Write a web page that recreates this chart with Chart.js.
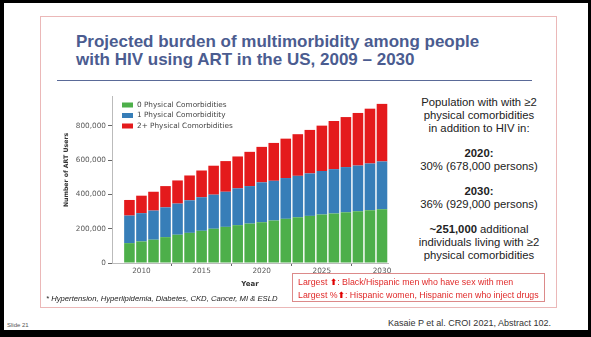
<!DOCTYPE html>
<html>
<head>
<meta charset="utf-8">
<script src="https://cdn.jsdelivr.net/npm/chart.js@4"></script>
<style>
  html, body { margin: 0; padding: 0; }
  body { width: 591px; height: 337px; background: #000; position: relative; overflow: hidden; font-family: "Liberation Sans", Arial, sans-serif; }
  .abs { position: absolute; }
  #slide { left: 4px; top: 3px; width: 584px; height: 327px; background: #fff; }
  #frame { left: 40px; top: 16px; width: 517px; height: 292px; border: 1px solid #ebb8b8; box-sizing: border-box; }
  #title { left: 76px; top: 33px; font-weight: bold; font-size: 17px; line-height: 18px; color: #4b5c90; white-space: nowrap; }
  #rule { left: 57px; top: 80px; width: 475px; height: 0; border-top: 1.5px solid #5a6a98; }
  #chartBox { left: 60px; top: 88px; width: 340px; height: 205px; }
  #side { left: 404px; top: 96px; width: 150px; text-align: center; font-size: 11.3px; line-height: 13px; color: #222; }
  #side p { margin: 0 0 12px 0; }
  #note { left: 292px; top: 273px; width: 253px; height: 29px; border: 1px solid #dc8a8a; box-sizing: border-box; padding: 2px 0 0 5px; font-size: 8.8px; line-height: 12.5px; color: #e02a2a; white-space: nowrap; }
  .up { font-family: "DejaVu Sans"; font-weight: bold; color: #e00000; }
  #foot { left: 46px; top: 294px; font-style: italic; font-size: 7.7px; color: #222; white-space: nowrap; }
  #cite { left: 388px; top: 318px; font-size: 9px; color: #333; white-space: nowrap; }
  #slideNo { left: 7px; top: 322px; font-size: 6px; color: #555; }
</style>
</head>
<body>
<div id="slide" class="abs"></div>
<div id="frame" class="abs"></div>
<div id="title" class="abs">Projected burden of multimorbidity among people<br>with HIV using ART in the US, 2009 – 2030</div>
<div id="rule" class="abs"></div>
<div id="chartBox" class="abs"><canvas id="burden-chart"></canvas></div>
<div id="side" class="abs">
  <p>Population with with ≥2<br>physical comorbidities<br>in addition to HIV in:</p>
  <p><b>2020:</b><br>30% (678,000 persons)</p>
  <p><b>2030:</b><br>36% (929,000 persons)</p>
  <p><b>~251,000</b> additional<br>individuals living with ≥2<br>physical comorbidities</p>
</div>
<div id="note" class="abs">Largest <span class="up">⬆</span>: Black/Hispanic men who have sex with men<br>Largest %<span class="up">⬆</span>: Hispanic women, Hispanic men who inject drugs</div>
<div id="foot" class="abs">* Hypertension, Hyperlipidemia, Diabetes, CKD, Cancer, MI &amp; ESLD</div>
<div id="cite" class="abs">Kasaie P et al. CROI 2021, Abstract 102.</div>
<div id="slideNo" class="abs">Slide 21</div>

<script>
const years = [2009, 2010, 2011, 2012, 2013, 2014, 2015, 2016, 2017, 2018, 2019,
               2020, 2021, 2022, 2023, 2024, 2025, 2026, 2027, 2028, 2029, 2030];

// ART users by number of physical comorbidities
const zeroComorb = [116000, 126000, 136000, 151000, 165000, 176000, 188000, 200000, 211000, 221000, 230000,
                    238000, 248000, 258000, 267000, 275000, 283000, 289000, 296000, 302000, 308000, 314000];
const oneComorb = [161000, 165000, 170000, 174000, 182000, 190000, 196000, 199000, 205000, 215000, 219000,
                   233000, 232000, 238000, 242000, 248000, 254000, 259000, 264000, 267000, 273000, 279000];
const twoPlusComorb = [91000, 102000, 110000, 124000, 135000, 145000, 156000, 169000, 179000, 186000, 200000,
                       207000, 221000, 230000, 243000, 254000, 265000, 281000, 292000, 307000, 320000, 336000];

const seriesLabels = ['0 Physical Comorbidities', '1 Physical Comorbiditity', '2+ Physical Comorbidities'];
const yTitle = 'Number of ART Users';
const yTicks = [0, 200000, 400000, 600000, 800000];
const xTicks = [2010, 2015, 2020, 2025, 2030];

const tickFont = { family: 'DejaVu Sans', size: 7.3 };

// legend inside the plot (top left) and the y label, which sits a bit above centre
const insideLegend = {
  id: 'insideLegend',
  afterDatasetsDraw(chart) {
    const { ctx, chartArea } = chart;
    ctx.save();
    ctx.font = '7.3px "DejaVu Sans"';
    ctx.textBaseline = 'middle';
    chart.data.datasets.forEach((ds, i) => {
      const x = chartArea.left + 10;
      const y = chartArea.top + 9 + i * 10.5;
      ctx.fillStyle = ds.backgroundColor;
      ctx.fillRect(x, y - 2.5, 11, 5);
      ctx.fillStyle = '#444';
      ctx.fillText(ds.label, x + 15, y);
    });

    ctx.translate(6, chartArea.top + 74);
    ctx.rotate(-Math.PI / 2);
    ctx.font = 'bold 6.2px "DejaVu Sans"';
    ctx.textAlign = 'center';
    ctx.fillStyle = '#333';
    ctx.fillText(yTitle, 0, 0);
    ctx.restore();
  }
};

new Chart(document.getElementById('burden-chart'), {
  type: 'bar',
  data: {
    labels: years,
    datasets: [
      { label: seriesLabels[0], data: zeroComorb, backgroundColor: '#4daf4a' },
      { label: seriesLabels[1], data: oneComorb, backgroundColor: '#377eb8' },
      { label: seriesLabels[2], data: twoPlusComorb, backgroundColor: '#e41a1c' }
    ]
  },
  options: {
    responsive: true,
    maintainAspectRatio: false,
    animation: false,
    layout: { padding: { top: 8, right: 12, left: 0, bottom: 0 } },
    datasets: { bar: { categoryPercentage: 1, barPercentage: 0.88 } },
    plugins: { legend: { display: false }, tooltip: { enabled: false } },
    scales: {
      x: {
        type: 'linear',
        offset: false,
        stacked: true,
        min: 2007.55,
        max: 2030.5,
        afterBuildTicks: scale => { scale.ticks = xTicks.map(v => ({ value: v })); },
        afterFit: scale => { scale.height = 30; },
        grid: { drawOnChartArea: false, tickLength: 3, color: '#666' },
        border: { color: '#bbb' },
        ticks: { font: tickFont, color: '#5a5a5a', padding: 1, maxRotation: 0, callback: v => String(v) },
        title: { display: true, text: 'Year', font: { family: 'DejaVu Sans', size: 7, weight: 'bold' }, color: '#333', padding: { top: 0, bottom: 5 } }
      },
      y: {
        stacked: true,
        min: 0,
        max: 975000,
        afterBuildTicks: scale => { scale.ticks = yTicks.map(v => ({ value: v })); },
        afterFit: scale => { scale.width = 52; },
        grid: { drawOnChartArea: false, tickLength: 4, color: '#666' },
        border: { color: '#bbb' },
        ticks: { font: tickFont, color: '#5a5a5a', padding: 2, callback: v => v.toLocaleString('en-US') }
      }
    }
  },
  plugins: [insideLegend]
});
</script>
</body>
</html>
